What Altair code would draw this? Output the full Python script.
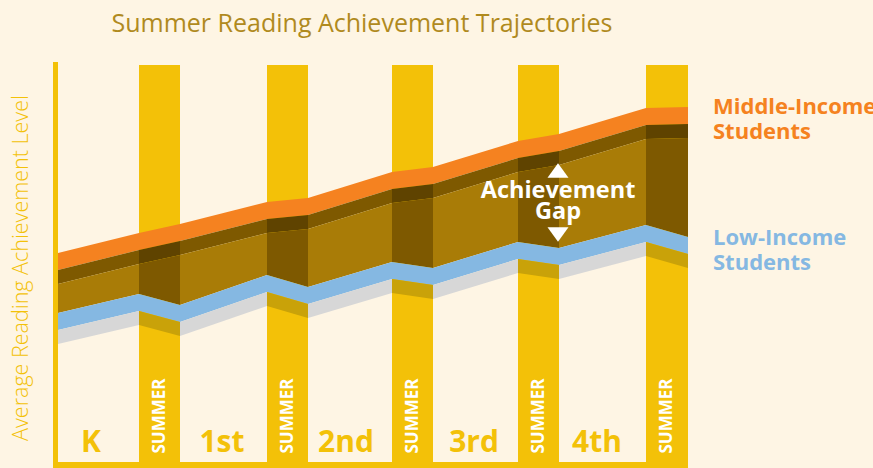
import altair as alt
import pandas as pd

W, H = 873, 468

# ---- data (time units along x, achievement level along y) ----
period_bounds = [58, 139, 180, 267, 308, 392, 433, 518, 559, 646, 688]
middle_income = [215, 235, 244, 266, 270, 296, 301, 327, 334, 360, 361]
low_income = [155, 174, 163, 193, 181, 206, 200, 226, 220, 243, 231]
grade_labels = ["K", "1st", "2nd", "3rd", "4th"]
grade_label_x = [91, 222, 346, 474, 597]
summer_label = "SUMMER"

# ---- colours ----
BG = "#FEF5E4"
YELLOW = "#F3C108"
ORANGE = "#F58220"
FACE = "#7E5900"
FACE_DARK = "#5F4300"
GOLD = "#A97C07"
BLUE = "#85B8E2"
GRAY = "#D7D7D7"
DKYELLOW = "#C9A209"
TITLE = "#B08A1E"

TOP_T, FACE_T = 17, 14  # band thicknesses (style)

xs = alt.Scale(domain=[0, W], nice=False, zero=False)
ys = alt.Scale(domain=[0, H], nice=False, zero=False)

def X(f="x"):
    return alt.X(f"{f}:Q", scale=xs, axis=None)

def Y(f="y"):
    return alt.Y(f"{f}:Q", scale=ys, axis=None)

# summer columns
summer_start = period_bounds[1::2]
summer_end = period_bounds[2::2]
cols = pd.DataFrame({"x": summer_start, "x2": summer_end, "y": [403] * 5, "y2": [0] * 5})
columns = alt.Chart(cols).mark_rect(color=YELLOW).encode(
    x=X(), x2="x2:Q", y=Y(), y2="y2:Q")

# axis lines
ax = pd.DataFrame({"x": [53, 53], "x2": [58, 688], "y": [406, 6], "y2": [0, 0]})
axes = alt.Chart(ax).mark_rect(color=YELLOW).encode(
    x=X(), x2="x2:Q", y=Y(), y2="y2:Q")

# ribbons
rows = []
for i in range(len(period_bounds) - 1):
    summer = i % 2 == 1
    for j in (i, i + 1):
        x = period_bounds[j]
        m = middle_income[j]
        l = low_income[j]
        bands = [
            ("orange", m, m - TOP_T, ORANGE),
            ("mface", m - TOP_T, m - TOP_T - FACE_T, FACE_DARK if summer else FACE),
            ("gap", m - TOP_T - FACE_T, l, FACE if summer else GOLD),
            ("blue", l, l - TOP_T, BLUE),
            ("lface", l - TOP_T, l - TOP_T - FACE_T, DKYELLOW if summer else GRAY),
        ]
        for name, y1, y2, c in bands:
            rows.append(dict(x=x, y=y1, y2=y2, key=f"{name}{i}", color=c))
bands_df = pd.DataFrame(rows)
ribbons = alt.Chart(bands_df).mark_area(interpolate="linear").encode(
    x=X(), y=Y(), y2="y2:Q",
    color=alt.Color("color:N", scale=None),
    detail="key:N")

# texts
title = alt.Chart(pd.DataFrame({"x": [362], "y": [436], "t": ["Summer Reading Achievement Trajectories"]})).mark_text(
    font="Open Sans", fontSize=25, color=TITLE, align="center", baseline="alphabetic").encode(
    x=X(), y=Y(), text="t:N")

ytitle = alt.Chart(pd.DataFrame({"x": [28], "y": [200], "t": ["Average Reading Achievement Level"]})).mark_text(
    font="Open Sans", fontSize=21.5, fontWeight=300, color=YELLOW, align="center", baseline="alphabetic", angle=270).encode(
    x=X(), y=Y(), text="t:N")

grades = alt.Chart(pd.DataFrame({"x": grade_label_x, "y": [16] * 5, "t": grade_labels})).mark_text(
    font="Open Sans", fontSize=30, fontWeight="bold", color=YELLOW, align="center", baseline="alphabetic").encode(
    x=X(), y=Y(), text="t:N")

sx = [(a + b) / 2 for a, b in zip(summer_start, summer_end)]
summers = alt.Chart(pd.DataFrame({"x": sx, "y": [52] * 5, "t": [summer_label] * 5})).mark_text(
    font="Open Sans", fontSize=17, fontWeight="bold", color="white", align="center", baseline="middle", angle=270).encode(
    x=X(), y=Y(), text="t:N")

mid_lbl = alt.Chart(pd.DataFrame({"x": [713, 713], "y": [354, 329], "t": ["Middle-Income", "Students"]})).mark_text(
    font="Open Sans", fontSize=22, fontWeight="bold", color=ORANGE, align="left", baseline="alphabetic").encode(
    x=X(), y=Y(), text="t:N")

low_lbl = alt.Chart(pd.DataFrame({"x": [713, 713], "y": [223, 198], "t": ["Low-Income", "Students"]})).mark_text(
    font="Open Sans", fontSize=22, fontWeight="bold", color=BLUE, align="left", baseline="alphabetic").encode(
    x=X(), y=Y(), text="t:N")

gap_lbl = alt.Chart(pd.DataFrame({"x": [558, 558], "y": [270, 249], "t": ["Achievement", "Gap"]})).mark_text(
    font="Open Sans", fontSize=23.5, fontWeight="bold", color="white", align="center", baseline="alphabetic").encode(
    x=X(), y=Y(), text="t:N")

up = alt.Chart(pd.DataFrame({"x": [558], "y": [297.5]})).mark_point(
    shape="M0,-0.7L1,0.7L-1,0.7Z", size=441, filled=True, color="white", opacity=1).encode(x=X(), y=Y())
down = alt.Chart(pd.DataFrame({"x": [558], "y": [233.5]})).mark_point(
    shape="M0,0.7L1,-0.7L-1,-0.7Z", size=441, filled=True, color="white", opacity=1).encode(x=X(), y=Y())

chart = alt.layer(
    columns, axes, ribbons, title, ytitle, grades, summers, mid_lbl, low_lbl, gap_lbl, up, down
).properties(
    width=W, height=H, padding=0, background=BG,
    autosize=alt.AutoSizeParams(type="none"),
).configure_view(strokeWidth=0)

chart.save("out.html", embed_options={"renderer": "svg", "actions": False})
